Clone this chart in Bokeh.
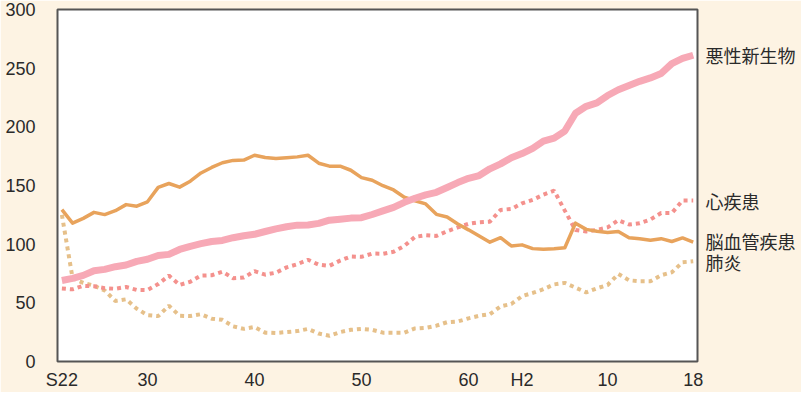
from bokeh.plotting import figure
from bokeh.models import Range1d, FixedTicker, LinearAxis
from bokeh.embed import file_html
from bokeh.resources import INLINE

years = list(range(1947, 2007))

cancer = [69.0, 70.8, 73.4, 77.4, 78.5, 80.8, 82.2, 85.3, 87.1, 90.4,
          91.3, 95.5, 98.2, 100.4, 102.3, 103.2, 105.5, 107.2, 108.4, 110.8,
          113.0, 114.8, 116.2, 116.3, 117.7, 120.4, 121.2, 122.2, 122.6, 125.3,
          128.4, 131.3, 135.7, 139.1, 142.0, 144.2, 148.3, 152.5, 156.1, 158.5,
          164.2, 168.4, 173.6, 177.2, 181.7, 187.8, 190.4, 196.4, 211.6, 217.5,
          220.4, 226.7, 231.6, 235.2, 238.8, 241.7, 245.4, 253.9, 258.3, 261.0]

heart = [62.2, 61.5, 64.5, 64.2, 62.5, 62.0, 63.5, 61.0, 60.9, 66.0,
         73.2, 65.3, 68.0, 73.2, 73.5, 76.5, 71.0, 71.5, 77.0, 74.0,
         75.7, 80.2, 82.9, 86.7, 82.5, 81.5, 86.0, 89.5, 89.2, 92.0,
         91.8, 93.5, 98.5, 106.2, 107.6, 107.0, 111.0, 114.3, 117.3, 118.7,
         119.2, 129.2, 130.0, 134.8, 137.8, 142.2, 145.6, 128.6, 112.0, 110.8,
         112.2, 114.3, 120.4, 116.8, 117.8, 121.0, 126.5, 126.5, 137.2, 137.2]

stroke = [129.4, 117.9, 122.0, 127.1, 125.2, 128.5, 133.7, 132.4, 136.1, 148.4,
          151.7, 148.6, 153.7, 160.7, 165.4, 169.4, 171.4, 171.7, 175.8, 173.8,
          173.1, 173.7, 174.4, 175.8, 169.0, 166.5, 166.5, 163.0, 156.7, 154.5,
          149.8, 146.2, 140.0, 137.0, 134.3, 125.4, 123.1, 117.2, 112.2, 106.9,
          101.7, 105.5, 98.5, 99.4, 96.2, 95.6, 96.0, 96.9, 117.9, 112.6,
          111.0, 110.0, 110.8, 105.5, 104.7, 103.4, 104.7, 102.3, 105.3, 101.7]

pneumonia = [125.0, 71.0, 67.0, 64.6, 60.5, 51.6, 53.0, 45.0, 39.5, 38.7,
             47.5, 39.0, 38.7, 40.3, 36.5, 35.5, 30.0, 27.8, 29.4, 24.6,
             24.3, 25.1, 25.9, 27.8, 23.8, 21.9, 25.1, 27.0, 27.8, 27.0,
             24.6, 24.6, 24.6, 28.2, 28.7, 30.5, 33.5, 34.1, 36.8, 39.0,
             40.3, 47.0, 49.0, 55.7, 58.4, 61.6, 65.7, 67.0, 63.0, 58.9,
             62.4, 65.2, 74.6, 69.2, 68.4, 68.4, 73.5, 76.0, 84.6, 85.4]

x_ticks = [1947, 1955, 1965, 1975, 1985, 1990, 1998, 2006]
x_tick_labels = ["S22", "30", "40", "50", "60", "H2", "10", "18"]
y_ticks = [0, 50, 100, 150, 200, 250, 300]

series_names = ["悪性新生物", "心疾患", "脳血管疾患", "肺炎"]
name_positions = [261, 137, 103, 85]

BG = "#FDF3E3"
TXT = "#2a2a2a"

p = figure(width=801, height=392, output_backend="svg", toolbar_location=None,
           x_range=Range1d(1946.59, 2006.4), y_range=Range1d(0, 300),
           min_border_left=57, min_border_right=104, min_border_top=9,
           min_border_bottom=20)
p.border_fill_color = BG
p.background_fill_color = "white"
p.outline_line_color = "#555555"
p.outline_line_width = 2
p.xgrid.visible = False
p.ygrid.visible = False

p.line(years, pneumonia, line_color="#E6C08A", line_width=4, line_dash="4 4")
p.line(years, heart, line_color="#F4918D", line_width=4, line_dash="4 4")
p.line(years, stroke, line_color="#E8A35C", line_width=3.5, line_join="round")
p.line(years, cancer, line_color="#F7A9B6", line_width=7, line_join="round")

xa = p.xaxis[0]
xa.ticker = FixedTicker(ticks=x_ticks)
xa.major_label_overrides = {t: l for t, l in zip(x_ticks, x_tick_labels)}
ya = p.yaxis[0]
ya.ticker = FixedTicker(ticks=y_ticks)
for ax in (xa, ya):
    ax.axis_line_color = None
    ax.major_tick_line_color = None
    ax.minor_tick_line_color = None
    ax.major_tick_out = 0
    ax.major_label_text_font = "Liberation Sans"
    ax.major_label_text_font_size = "18px"
    ax.major_label_text_color = TXT
xa.major_label_standoff = 8
ya.major_label_standoff = 22

ra = LinearAxis(ticker=FixedTicker(ticks=name_positions),
                major_label_overrides={t: n for t, n in zip(name_positions, series_names)})
ra.axis_line_color = None
ra.major_tick_line_color = None
ra.minor_tick_line_color = None
ra.major_tick_out = 0
ra.major_label_standoff = 8
ra.major_label_text_font = "Noto Sans CJK JP"
ra.major_label_text_font_size = "18px"
ra.major_label_text_color = TXT
p.add_layout(ra, "right")

open("out.html", "w").write(file_html(p, INLINE))
